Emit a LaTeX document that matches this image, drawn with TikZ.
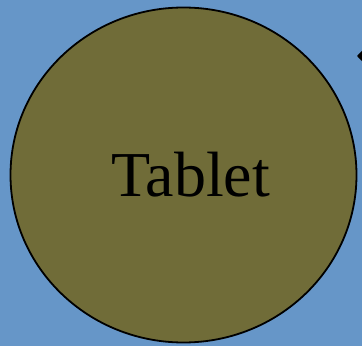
\documentclass[tikz,border=0pt]{standalone}
\usepackage{fontspec}
\setmainfont{Liberation Serif}
\usepackage{tikz}
\usetikzlibrary{positioning,arrows.meta,shapes.geometric}

\definecolor{skyblue}{RGB}{102,150,200}
\definecolor{olivefill}{RGB}{112,108,56}

\begin{document}
\begin{tikzpicture}[
  x=1pt, y=1pt,
  device/.style={draw, ellipse, line width=1.8pt, fill=olivefill, minimum width=346pt, minimum height=335pt, inner sep=0pt, font=\fontsize{64}{76}\selectfont},
  rel/.style={-{Triangle[length=9pt,width=18pt]}, line width=2pt}
]
\clip (0,0) rectangle (362,346);
\fill[skyblue] (0,0) rectangle (362,346);
\node[device] (tablet) at (183.5,171) {\hspace*{14pt}\raisebox{-4pt}{Tablet}};

\coordinate (from) at (400,290);
\coordinate (to) at (357,290);
\draw[rel] (from) -- (to);
\end{tikzpicture}
\end{document}
